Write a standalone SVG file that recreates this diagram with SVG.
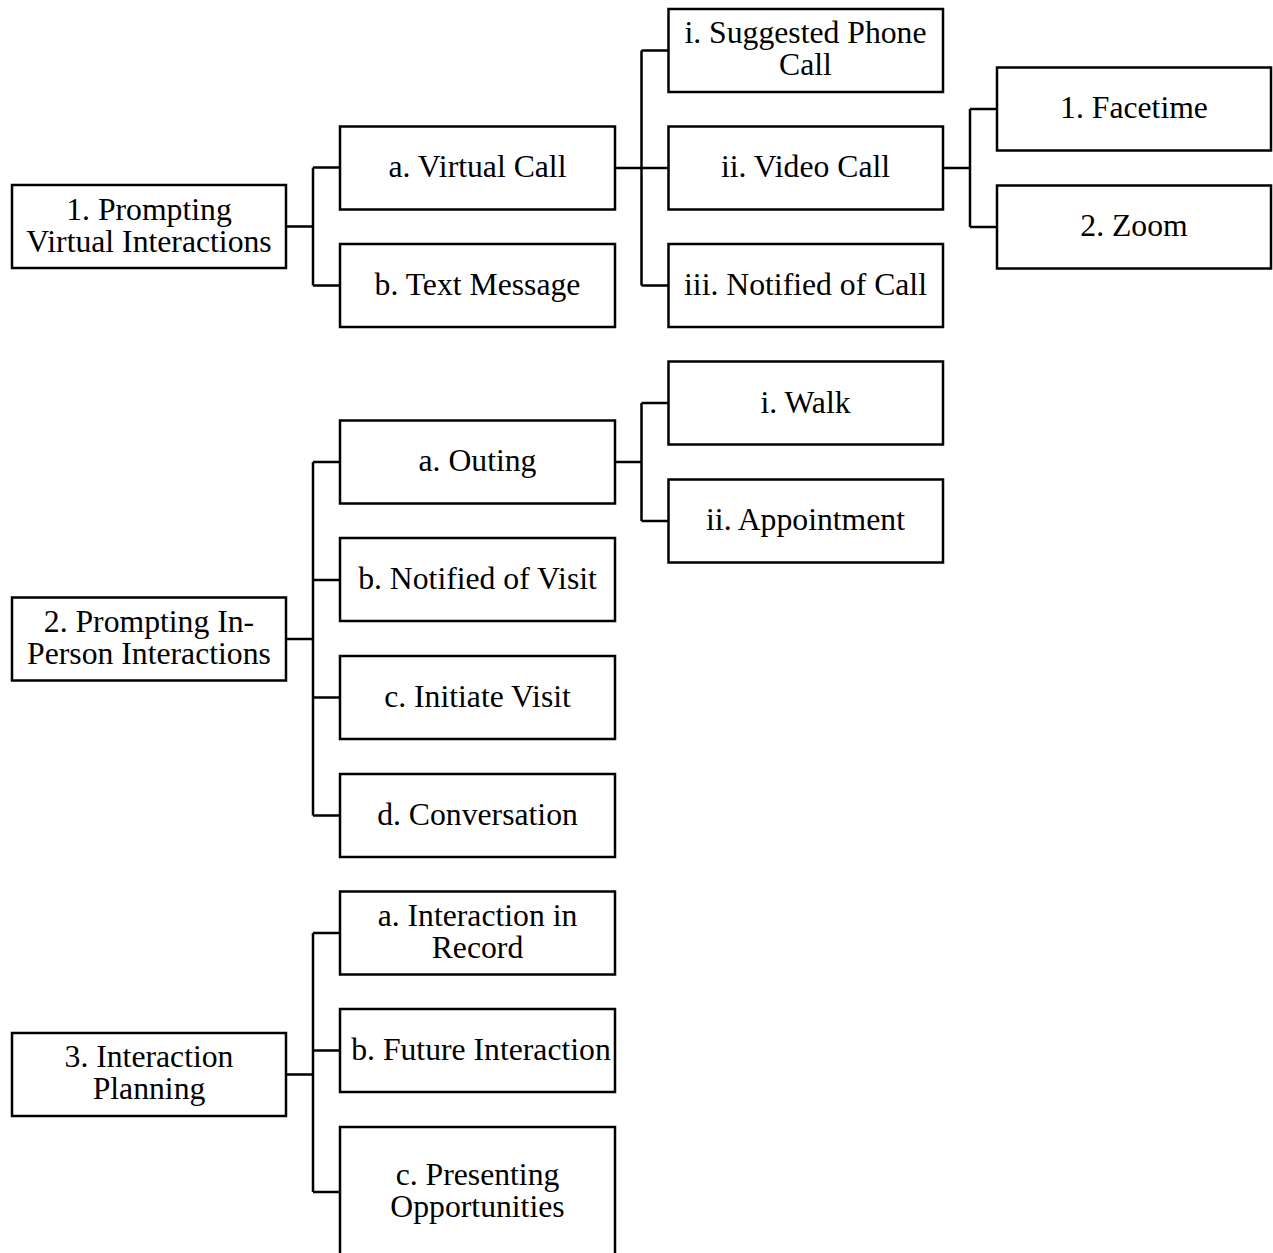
<svg xmlns="http://www.w3.org/2000/svg" width="1273" height="1253" viewBox="0 0 1273 1253">
  <style>
    .box { fill: #ffffff; stroke: #000000; stroke-width: 2.5; }
    .lbl { font-family: "Liberation Serif", "Times New Roman", serif; font-size: 31.7px; fill: #000000; text-anchor: middle; }
    .wire { fill: none; stroke: #000000; stroke-width: 2.5; stroke-linejoin: miter; stroke-linecap: butt; }
  </style>
  <rect width="1273" height="1253" fill="#ffffff"/>

  <!-- connectors -->
  <g id="connectors">
    <!-- 1 -> a, b -->
    <path class="wire" d="M286,226.5 H313 M313,167.5 V285.5 M313,167.5 H340 M313,285.5 H340"/>
    <!-- a. Virtual Call -> i, ii, iii -->
    <path class="wire" d="M615,168 H668 M641.5,50.5 V285.5 M641.5,50.5 H668 M641.5,285.5 H668"/>
    <!-- ii. Video Call -> 1, 2 -->
    <path class="wire" d="M943,168 H970 M970,109 V227 M970,109 H997 M970,227 H997"/>
    <!-- 2 -> a, b, c, d -->
    <path class="wire" d="M286,639 H313 M313,462 V815.5 M313,462 H340 M313,580 H340 M313,697.5 H340 M313,815.5 H340"/>
    <!-- a. Outing -> i, ii -->
    <path class="wire" d="M615,462 H641.5 M641.5,403 V521 M641.5,403 H668 M641.5,521 H668"/>
    <!-- 3 -> a, b, c -->
    <path class="wire" d="M286,1074.5 H313 M313,933 V1192 M313,933 H340 M313,1050.5 H340 M313,1192 H340"/>
  </g>

  <!-- level 0 -->
  <g id="n1">
    <rect class="box" x="12" y="185" width="274" height="83"/>
    <text class="lbl" x="149" y="219.5">1. Prompting</text>
    <text class="lbl" x="149" y="251.5">Virtual Interactions</text>
  </g>
  <g id="n2">
    <rect class="box" x="12" y="597.5" width="274" height="83"/>
    <text class="lbl" x="149" y="631.5">2. Prompting In-</text>
    <text class="lbl" x="149" y="663.5">Person Interactions</text>
  </g>
  <g id="n3">
    <rect class="box" x="12" y="1033" width="274" height="83"/>
    <text class="lbl" x="149" y="1067">3. Interaction</text>
    <text class="lbl" x="149" y="1099">Planning</text>
  </g>

  <!-- level 1 -->
  <g id="n1a">
    <rect class="box" x="340" y="126.5" width="275" height="83"/>
    <text class="lbl" x="477.5" y="177">a. Virtual Call</text>
  </g>
  <g id="n1b">
    <rect class="box" x="340" y="244" width="275" height="83"/>
    <text class="lbl" x="477.5" y="294.5">b. Text Message</text>
  </g>
  <g id="n2a">
    <rect class="box" x="340" y="420.5" width="275" height="83"/>
    <text class="lbl" x="477.5" y="471">a. Outing</text>
  </g>
  <g id="n2b">
    <rect class="box" x="340" y="538" width="275" height="83"/>
    <text class="lbl" x="477.5" y="588.5">b. Notified of Visit</text>
  </g>
  <g id="n2c">
    <rect class="box" x="340" y="656" width="275" height="83"/>
    <text class="lbl" x="477.5" y="706.5">c. Initiate Visit</text>
  </g>
  <g id="n2d">
    <rect class="box" x="340" y="774" width="275" height="83"/>
    <text class="lbl" x="477.5" y="824.5">d. Conversation</text>
  </g>
  <g id="n3a">
    <rect class="box" x="340" y="891.5" width="275" height="83"/>
    <text class="lbl" x="477.5" y="926">a. Interaction in</text>
    <text class="lbl" x="477.5" y="958">Record</text>
  </g>
  <g id="n3b">
    <rect class="box" x="340" y="1009" width="275" height="83"/>
    <text class="lbl" x="481" y="1059.5">b. Future Interaction</text>
  </g>
  <g id="n3c">
    <rect class="box" x="340" y="1127" width="275" height="140"/>
    <text class="lbl" x="477.5" y="1184.5">c. Presenting</text>
    <text class="lbl" x="477.5" y="1216.5">Opportunities</text>
  </g>

  <!-- level 2 -->
  <g id="n1a1">
    <rect class="box" x="668.5" y="9" width="274.5" height="83"/>
    <text class="lbl" x="805.5" y="43">i. Suggested Phone</text>
    <text class="lbl" x="805.5" y="75">Call</text>
  </g>
  <g id="n1a2">
    <rect class="box" x="668.5" y="126.5" width="274.5" height="83"/>
    <text class="lbl" x="805.5" y="177">ii. Video Call</text>
  </g>
  <g id="n1a3">
    <rect class="box" x="668.5" y="244" width="274.5" height="83"/>
    <text class="lbl" x="805.5" y="294.5">iii. Notified of Call</text>
  </g>
  <g id="n2a1">
    <rect class="box" x="668.5" y="361.5" width="274.5" height="83"/>
    <text class="lbl" x="805.5" y="412.5">i. Walk</text>
  </g>
  <g id="n2a2">
    <rect class="box" x="668.5" y="479.5" width="274.5" height="83"/>
    <text class="lbl" x="805.5" y="530">ii. Appointment</text>
  </g>

  <!-- level 3 -->
  <g id="n1a2a">
    <rect class="box" x="997" y="67.5" width="274" height="83"/>
    <text class="lbl" x="1134" y="118">1. Facetime</text>
  </g>
  <g id="n1a2b">
    <rect class="box" x="997" y="185.5" width="274" height="83"/>
    <text class="lbl" x="1134" y="236">2. Zoom</text>
  </g>
</svg>
